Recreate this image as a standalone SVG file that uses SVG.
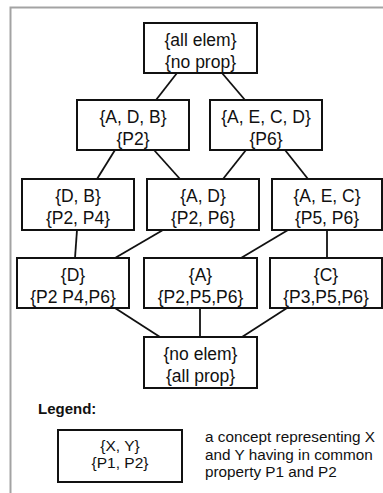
<svg xmlns="http://www.w3.org/2000/svg" width="383" height="493" viewBox="0 0 383 493">
<style>
.box{fill:#fff;stroke:#111;stroke-width:2}
.t{font-family:"Liberation Sans",Arial,sans-serif;font-size:17.5px;fill:#111;text-anchor:middle}
.lt{font-family:"Liberation Sans",Arial,sans-serif;font-size:15.5px;fill:#111;text-anchor:middle}
.d{font-family:"Liberation Sans",Arial,sans-serif;font-size:15.3px;fill:#111}
.lg{font-family:"Liberation Sans",Arial,sans-serif;font-size:15px;font-weight:bold;fill:#111}
.e{stroke:#111;stroke-width:1.8;fill:none}
</style>
<rect width="383" height="493" fill="#fff"/>
<path d="M10.5,493 V7.5 H383" fill="none" stroke="#a3a3a3" stroke-width="2"/>
<g id="edges">
<line class="e" x1="177" y1="73" x2="156" y2="100"/>
<line class="e" x1="222" y1="73" x2="245" y2="100"/>
<line class="e" x1="115" y1="150" x2="97" y2="179"/>
<line class="e" x1="154" y1="150" x2="180" y2="179"/>
<line class="e" x1="246" y1="150" x2="223" y2="179"/>
<line class="e" x1="285" y1="150" x2="308" y2="179"/>
<line class="e" x1="77" y1="230" x2="75" y2="258"/>
<line class="e" x1="163" y1="230" x2="115" y2="258"/>
<line class="e" x1="288" y1="230" x2="241" y2="258"/>
<line class="e" x1="327" y1="230" x2="327" y2="258"/>
<line class="e" x1="115" y1="308" x2="160" y2="337"/>
<line class="e" x1="200" y1="308" x2="200" y2="337"/>
<line class="e" x1="287" y1="308" x2="242" y2="337"/>
</g>
<g id="n_top"><rect class="box" x="144" y="23" width="113" height="50"/><text class="t" x="200.5" y="46">{all elem}</text><text class="t" x="200.5" y="68">{no prop}</text></g>
<g id="n_adb"><rect class="box" x="77" y="100" width="112" height="50"/><text class="t" x="133" y="123">{A, D, B}</text><text class="t" x="133" y="145">{P2}</text></g>
<g id="n_aecd"><rect class="box" x="210" y="100" width="112" height="50"/><text class="t" x="266" y="123">{A, E, C, D}</text><text class="t" x="266" y="145">{P6}</text></g>
<g id="n_db"><rect class="box" x="22" y="179" width="112" height="51"/><text class="t" x="78" y="202">{D, B}</text><text class="t" x="78" y="224">{P2, P4}</text></g>
<g id="n_ad"><rect class="box" x="147" y="179" width="112" height="51"/><text class="t" x="203" y="202">{A, D}</text><text class="t" x="203" y="224">{P2, P6}</text></g>
<g id="n_aec"><rect class="box" x="272" y="179" width="110" height="51"/><text class="t" x="327" y="202">{A, E, C}</text><text class="t" x="327" y="224">{P5, P6}</text></g>
<g id="n_d"><rect class="box" x="17" y="258" width="112" height="50"/><text class="t" x="73" y="281">{D}</text><text class="t" x="73" y="303">{P2 P4,P6}</text></g>
<g id="n_a"><rect class="box" x="144" y="258" width="113" height="50"/><text class="t" x="200.5" y="281">{A}</text><text class="t" x="200.5" y="303">{P2,P5,P6}</text></g>
<g id="n_c"><rect class="box" x="270" y="258" width="112" height="50"/><text class="t" x="326" y="281">{C}</text><text class="t" x="326" y="303">{P3,P5,P6}</text></g>
<g id="n_bottom"><rect class="box" x="144" y="337" width="113" height="51"/><text class="t" x="200.5" y="360">{no elem}</text><text class="t" x="200.5" y="382">{all prop}</text></g>
<g id="legend">
<text class="lg" x="38" y="414">Legend:</text>
<rect class="box" x="58" y="430" width="124" height="52"/>
<text class="lt" x="120" y="451">{X, Y}</text>
<text class="lt" x="120" y="468">{P1, P2}</text>
<text class="d" x="205" y="442">a concept representing X</text>
<text class="d" x="205" y="459.5">and Y having in common</text>
<text class="d" x="205" y="477">property P1 and P2</text>
</g>
</svg>
